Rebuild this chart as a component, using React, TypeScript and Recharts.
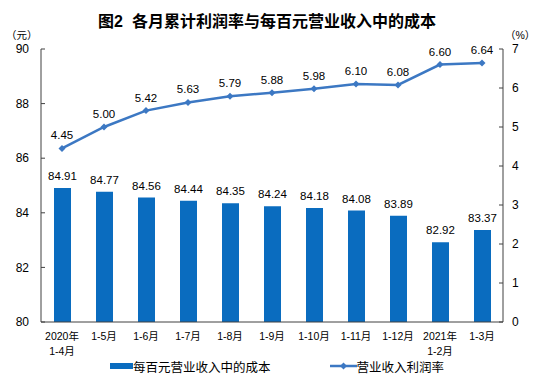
import { ComposedChart, Bar, Line, XAxis, YAxis, LabelList, Legend } from "recharts";

const periods = [
  "2020年\n1-4月", "1-5月", "1-6月", "1-7月", "1-8月", "1-9月",
  "1-10月", "1-11月", "1-12月", "2021年\n1-2月", "1-3月",
];
const costPerHundred = [84.91, 84.77, 84.56, 84.44, 84.35, 84.24, 84.18, 84.08, 83.89, 82.92, 83.37];
const profitRate = [4.45, 5.0, 5.42, 5.63, 5.79, 5.88, 5.98, 6.1, 6.08, 6.6, 6.64];
const costTicks = [80, 82, 84, 86, 88, 90];
const rateTicks = [0, 1, 2, 3, 4, 5, 6, 7];
const boundaryTicks = [1, 2, 3, 4, 5, 6, 7, 8, 9, 10];

const data = periods.map((p, i) => ({
  period: p,
  cost: costPerHundred[i],
  rate: profitRate[i],
}));

const FONT = "'Liberation Sans', Arial, 'Noto Sans CJK SC', sans-serif";
const BAR_COLOR = "#0a6cbf";
const LINE_COLOR = "#3c78c3";
const AXIS_COLOR = "#404040";

const PeriodTick = (props: any) => {
  const { x, y, payload } = props;
  const lines = String(payload.value).split("\n");
  return (
    <text x={x} y={y} textAnchor="middle" fontSize={10.5} fill="#000" fontFamily={FONT}>
      {lines.map((l, i) => (
        <tspan key={i} x={x} dy={i === 0 ? 18 : 15}>
          {l}
        </tspan>
      ))}
    </text>
  );
};

const Diamond = (props: any) => {
  const { cx, cy, index } = props;
  if (cx == null || cy == null) return <g key={index} />;
  const r = 3.5;
  return (
    <path
      key={index}
      d={`M${cx},${cy - r}L${cx + r},${cy}L${cx},${cy + r}L${cx - r},${cy}Z`}
      fill={LINE_COLOR}
    />
  );
};

const renderLegend = (props: any) => {
  const items = props.payload || [];
  return (
    <div
      style={{
        width: 534,
        height: 20,
        display: "flex",
        alignItems: "center",
        paddingLeft: 110,
        boxSizing: "border-box",
        gap: 59,
        fontSize: 12.5,
        fontFamily: FONT,
        color: "#000",
      }}
    >
      {items.map((item: any, i: number) => (
        <div key={i} style={{ display: "flex", alignItems: "center" }}>
          {item.type === "line" ? (
            <svg width={27} height={10}>
              <line x1={0} y1={5} x2={27} y2={5} stroke={LINE_COLOR} strokeWidth={2.5} />
              <path d="M13.5,1.5L17,5L13.5,8.5L10,5Z" fill={LINE_COLOR} />
            </svg>
          ) : (
            <span style={{ display: "inline-block", width: 23, height: 6, background: BAR_COLOR }} />
          )}
          <span>{item.value}</span>
        </div>
      ))}
    </div>
  );
};

export default function App() {
  return (
    <div style={{ position: "absolute", left: 0, top: 0, width: 534, height: 381, background: "#fff", fontFamily: FONT }}>
      <div
        style={{
          position: "absolute",
          left: 0,
          top: 8,
          width: 534,
          textAlign: "center",
          fontSize: 16,
          fontWeight: "bold",
          color: "#000",
        }}
      >
        图2&nbsp;&nbsp;各月累计利润率与每百元营业收入中的成本
      </div>
      <div style={{ position: "absolute", left: 6, top: 27, fontSize: 10.5, color: "#000" }}>（元）</div>
      <div style={{ position: "absolute", left: 505, top: 27, fontSize: 10.5, color: "#000" }}>（%）</div>
      <ComposedChart
        width={534}
        height={381}
        data={data}
        margin={{ top: 49, right: 0, left: 0, bottom: 5 }}
        barCategoryGap={0}
      >
        <XAxis
          xAxisId="bounds"
          type="number"
          domain={[0, 11]}
          ticks={boundaryTicks}
          allowDataOverflow
          height={0}
          axisLine={false}
          tickLine={{ stroke: AXIS_COLOR }}
          tickSize={-4}
          tick={() => <g />}
        />
        <XAxis
          dataKey="period"
          height={34}
          tickLine={false}
          tickSize={0}
          tickMargin={0}
          axisLine={{ stroke: AXIS_COLOR }}
          interval={0}
          tick={<PeriodTick />}
        />
        <XAxis
          xAxisId="frame"
          dataKey="period"
          orientation="top"
          height={0}
          tick={false}
          tickLine={false}
          axisLine={{ stroke: AXIS_COLOR }}
        />
        <YAxis
          yAxisId="cost"
          orientation="left"
          width={41}
          domain={[80, 90]}
          ticks={costTicks}
          allowDataOverflow
          axisLine={{ stroke: AXIS_COLOR }}
          tickLine={{ stroke: AXIS_COLOR }}
          tickSize={-4}
          tickMargin={16}
          tick={{ fontSize: 12, fill: "#000", fontFamily: FONT }}
        />
        <YAxis
          yAxisId="rate"
          orientation="right"
          width={31}
          domain={[0, 7]}
          ticks={rateTicks}
          axisLine={{ stroke: AXIS_COLOR }}
          tickLine={{ stroke: AXIS_COLOR }}
          tickSize={-4}
          tickMargin={13}
          tick={{ fontSize: 12, fill: "#000", fontFamily: FONT }}
        />
        <Legend verticalAlign="bottom" height={20} wrapperStyle={{ left: 0, width: 534 }} content={renderLegend} />
        <Bar
          yAxisId="cost"
          dataKey="cost"
          name="每百元营业收入中的成本"
          fill={BAR_COLOR}
          barSize={17}
          isAnimationActive={false}
        >
          <LabelList dataKey="cost" position="top" offset={8} fontSize={11.5} fill="#000" fontFamily={FONT} formatter={(v: any) => Number(v).toFixed(2)} />
        </Bar>
        <Line
          yAxisId="rate"
          dataKey="rate"
          name="营业收入利润率"
          stroke={LINE_COLOR}
          strokeWidth={2.5}
          dot={<Diamond />}
          activeDot={false}
          legendType="line"
          isAnimationActive={false}
        >
          <LabelList dataKey="rate" position="top" offset={9} fontSize={11.5} fill="#000" fontFamily={FONT} formatter={(v: any) => Number(v).toFixed(2)} />
        </Line>
      </ComposedChart>
    </div>
  );
}
